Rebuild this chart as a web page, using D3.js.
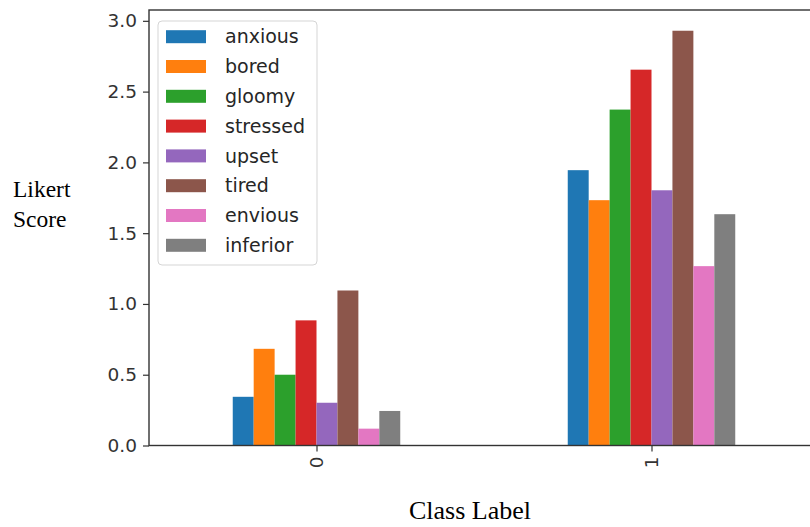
<!DOCTYPE html>
<html>
<head>
<meta charset="utf-8">
<script src="https://cdn.jsdelivr.net/npm/d3@7"></script>
<style>
  body { margin: 0; background: #fff; }
  svg { display: block; }
</style>
</head>
<body>
<svg width="810" height="527"></svg>
<script>
// data
var classes = ["0", "1"];
var emotions = ["anxious", "bored", "gloomy", "stressed", "upset", "tired", "envious", "inferior"];
var class0 = [0.344, 0.683, 0.50, 0.884, 0.302, 1.095, 0.119, 0.244];
var class1 = [1.945, 1.733, 2.373, 2.655, 1.803, 2.93, 1.267, 1.634];
var yTicks = [0, 0.5, 1.0, 1.5, 2.0, 2.5, 3.0];
var colors = ["#1f77b4", "#ff7f0e", "#2ca02c", "#d62728", "#9467bd", "#8c564b", "#e377c2", "#7f7f7f"];

var values = [class0, class1];

var margin = { top: 10, left: 149 };
var width = 670;
var height = 435.5;

var svg = d3.select("svg");
var g = svg.append("g").attr("transform", "translate(" + margin.left + "," + margin.top + ")");

// pandas style: categories at 0,1 ; xlim -0.5..1.5
var xScale = d3.scaleLinear().domain([-0.5, classes.length - 0.5]).range([0, width]);
var ymax = d3.max(values, function(v) { return d3.max(v); }) * 1.05;
var yScale = d3.scaleLinear().domain([0, ymax]).range([height, 0]);

var groupWidth = 0.5;
var barWidth = groupWidth / emotions.length;

// bars
classes.forEach(function(c, ci) {
	g.selectAll(".bar" + ci)
		.data(values[ci])
		.enter()
		.append("rect")
		.attr("x", function(d, i) { return xScale(ci - groupWidth / 2 + i * barWidth); })
		.attr("width", function() { return xScale(barWidth) - xScale(0); })
		.attr("y", function(d) { return yScale(d); })
		.attr("height", function(d) { return height - yScale(d); })
		.attr("fill", function(d, i) { return colors[i]; });
});

// axes
var yAxis = d3.axisLeft(yScale).tickValues(yTicks).tickFormat(d3.format(".1f")).tickSize(6).tickPadding(6);
var xAxis = d3.axisBottom(xScale).tickValues(classes.map(function(c, i) { return i; }))
	.tickFormat(function(d) { return classes[d]; }).tickSize(6);

var ya = g.append("g").attr("class", "y axis").call(yAxis);
var xa = g.append("g").attr("class", "x axis").attr("transform", "translate(0," + height + ")").call(xAxis);

[ya, xa].forEach(function(a) {
	a.select(".domain").remove();
	a.selectAll("line").attr("stroke", "#333").attr("stroke-width", 1.2);
	a.selectAll("text").attr("fill", "#333").style("font-family", "DejaVu Sans").style("font-size", "18.5px");
});

xa.selectAll("text")
	.attr("transform", "rotate(-90)")
	.attr("text-anchor", "end")
	.attr("x", -11)
	.attr("y", 0)
	.attr("dy", "0.35em");

// spines
g.append("rect")
	.attr("x", 0).attr("y", 0)
	.attr("width", width).attr("height", height)
	.attr("fill", "none").attr("stroke", "#333").attr("stroke-width", 1.4);

// legend
var legend = g.append("g").attr("transform", "translate(9,11)");
legend.append("rect")
	.attr("x", 0).attr("y", 0).attr("width", 159).attr("height", 244)
	.attr("rx", 4).attr("fill", "#fff").attr("fill-opacity", 0.8)
	.attr("stroke", "#d5d5d5").attr("stroke-width", 1);

var items = legend.selectAll(".item")
	.data(emotions)
	.enter()
	.append("g")
	.attr("transform", function(d, i) { return "translate(0," + (15.7 + i * 29.8) + ")"; });

items.append("rect")
	.attr("x", 8).attr("y", -6.5).attr("width", 40).attr("height", 13)
	.attr("fill", function(d, i) { return colors[i]; });

items.append("text")
	.attr("x", 67).attr("dy", "0.35em")
	.attr("fill", "#262626")
	.style("font-family", "DejaVu Sans").style("font-size", "19px")
	.text(function(d) { return d; });

// axis labels
svg.append("text")
	.attr("x", 13).attr("y", 197)
	.style("font-family", "Liberation Serif").style("font-size", "23.5px")
	.text("Likert");
svg.append("text")
	.attr("x", 13).attr("y", 227)
	.style("font-family", "Liberation Serif").style("font-size", "23.5px")
	.text("Score");
svg.append("text")
	.attr("x", 470).attr("y", 519)
	.attr("text-anchor", "middle")
	.style("font-family", "Liberation Serif").style("font-size", "26px")
	.text("Class Label");
</script>
</body>
</html>
